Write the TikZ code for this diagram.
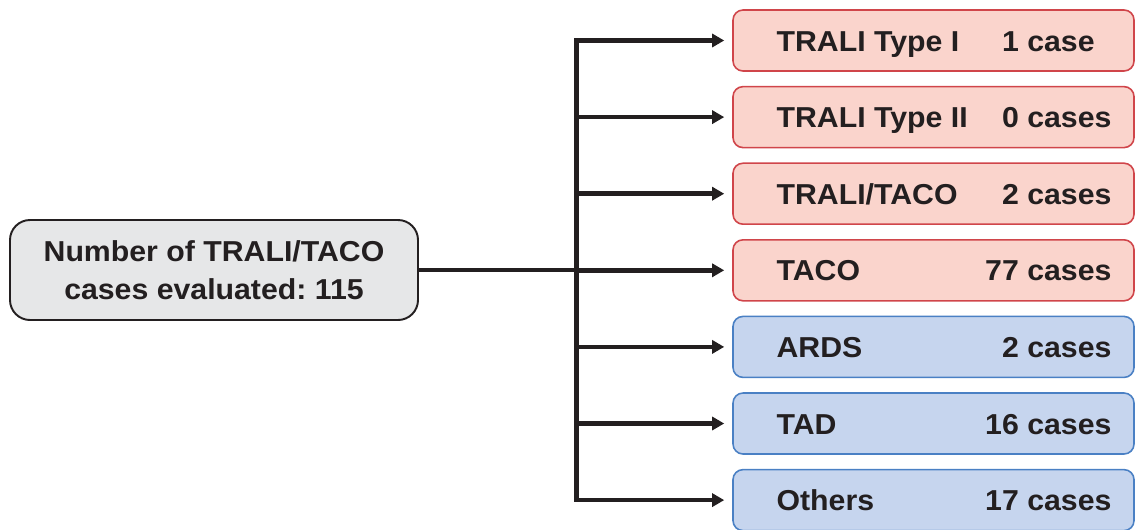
\documentclass[tikz,border=0pt]{standalone}
\usepackage{fontspec}
\setmainfont[FakeStretch=1.05]{Liberation Sans}
\usetikzlibrary{arrows.meta}
\frenchspacing
\definecolor{inkdark}{HTML}{231F20}
\definecolor{grayfill}{HTML}{E6E7E8}
\definecolor{redfill}{HTML}{FAD4CC}
\definecolor{redline}{HTML}{D0454A}
\definecolor{bluefill}{HTML}{C6D5EE}
\definecolor{blueline}{HTML}{4A80C4}
\tikzset{
  totalbox/.style={draw=inkdark, fill=grayfill, line width=1.1pt, rounded corners=0.4cm,
    minimum width=8.16cm, minimum height=2cm, align=center, text=inkdark},
  casebox/.style={line width=0.9pt, rounded corners=0.2cm, minimum width=8.02cm, minimum height=1.22cm},
  redbox/.style={casebox, draw=redline, fill=redfill},
  bluebox/.style={casebox, draw=blueline, fill=bluefill},
  boxtext/.style={inner sep=0pt, text=inkdark},
  link/.style={draw=inkdark, line width=2.6pt}
}
\begin{document}
\begin{tikzpicture}[font=\bfseries\fontsize{16.4}{20.3}\selectfont, line join=miter, >={Triangle[length=0.24cm,width=0.26cm]}]
  \useasboundingbox (0,0) rectangle (22.7,10.58);
  \clip (0,0) rectangle (22.7,10.58);
  % left box
  \node[totalbox] (total) at (4.28,5.18) {Number of TRALI/TACO\\[0.05cm]cases evaluated: 115};
  % right boxes
  \foreach \i/\nm/\cnt/\st in {1/TRALI Type I/1 case\phantom{s}/redbox, 2/TRALI Type II/0 cases/redbox,
      3/{TRALI/TACO}/2 cases/redbox, 4/TACO/77 cases/redbox, 5/ARDS/2 cases/bluebox,
      6/TAD/16 cases/bluebox, 7/Others/17 cases/bluebox}{
    \node[\st] (b\i) at (18.67,{9.77-1.532*(\i-1)}) {};
    \node[boxtext, anchor=base west] (n\i) at ([xshift=0.88cm, yshift=-0.21cm]b\i.west) {\nm};
    \node[boxtext, anchor=base east] (k\i) at ([xshift=-0.46cm, yshift=-0.21cm]b\i.east) {\cnt};
  }
  % connectors
  \coordinate (trunk) at (11.53,5.18);
  \draw[link] (total.east) -- (trunk);
  \draw[link, line cap=rect] (trunk |- b1) -- (trunk |- b7);
  \foreach \i in {1,...,7}\draw[link, ->, shorten >=0.16cm] (trunk |- b\i) -- (b\i.west);
\end{tikzpicture}
\end{document}
